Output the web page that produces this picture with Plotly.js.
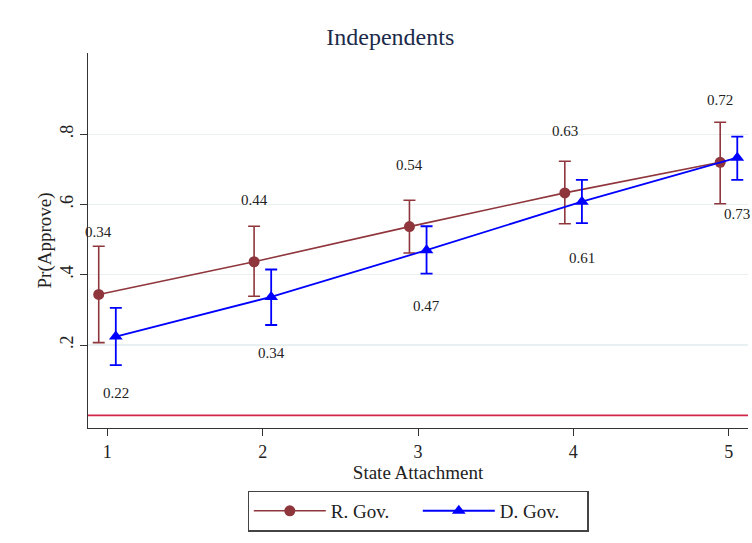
<!DOCTYPE html>
<html><head><meta charset="utf-8">
<script src="https://cdn.plot.ly/plotly-3.0.1.min.js"></script>
<style>html,body{margin:0;padding:0;background:#fff}#chart{width:752px;height:543px}</style>
</head><body><div id="chart"></div>
<script>
// State attachment categories
const attachment = [1, 2, 3, 4, 5];
const xTickLabels = ['1', '2', '3', '4', '5'];
// R. Gov. series
const rGov = [0.344, 0.437, 0.537, 0.633, 0.720];
const rGovLo = [0.207, 0.339, 0.462, 0.545, 0.602];
const rGovHi = [0.481, 0.538, 0.612, 0.723, 0.834];
const rGovLabels = ['0.34', '0.44', '0.54', '0.63', '0.72'];
// D. Gov. series
const dGov = [0.224, 0.337, 0.470, 0.608, 0.733];
const dGovLo = [0.143, 0.257, 0.403, 0.547, 0.670];
const dGovHi = [0.306, 0.415, 0.538, 0.670, 0.793];
const dGovLabels = ['0.22', '0.34', '0.47', '0.61', '0.73'];
const yTickVals = [0.2, 0.4, 0.6, 0.8];
const yTickLabels = ['.2', '.4', '.6', '.8'];

const RED = '#8f363c', BLUE = '#0000ff';
const serif = 'Liberation Serif, Times New Roman, serif';
const dx = 0.055;

const rx = attachment.map(v => v - dx);
const bx = attachment.map(v => v + dx);

const traces = [
  {x: rx, y: rGov, type: 'scatter', mode: 'lines+markers', name: 'R. Gov.',
   line: {color: RED, width: 1.6}, marker: {symbol: 'circle', size: 11, color: RED},
   error_y: {type: 'data', symmetric: false,
     array: rGov.map((v, i) => rGovHi[i] - v), arrayminus: rGov.map((v, i) => v - rGovLo[i]),
     color: RED, thickness: 1.6, width: 6}},
  {x: bx, y: dGov, type: 'scatter', mode: 'lines+markers', name: 'D. Gov.',
   line: {color: BLUE, width: 1.8}, marker: {symbol: 'triangle-up', size: 12, color: BLUE},
   error_y: {type: 'data', symmetric: false,
     array: dGov.map((v, i) => dGovHi[i] - v), arrayminus: dGov.map((v, i) => v - dGovLo[i]),
     color: BLUE, thickness: 1.8, width: 6}}
];

const ann = [];
rGov.forEach((v, i) => ann.push({x: rx[i], y: v, xref: 'x', yref: 'y', text: rGovLabels[i],
  showarrow: false, yshift: 62, font: {family: serif, size: 15, color: '#222'}}));
dGov.forEach((v, i) => ann.push({x: bx[i], y: v, xref: 'x', yref: 'y', text: dGovLabels[i],
  showarrow: false, yshift: -56, font: {family: serif, size: 15, color: '#222'}}));

const layout = {
  width: 752, height: 543,
  margin: {l: 88, r: 4, t: 53, b: 115},
  paper_bgcolor: '#fff', plot_bgcolor: '#fff',
  font: {family: serif, color: '#222'},
  title: {text: 'Independents', x: 0.458, xref: 'paper', y: 0.932, yanchor: 'middle',
          font: {family: serif, size: 24, color: '#1c2b4a'}},
  xaxis: {range: [0.876, 5.124], tickvals: attachment, ticktext: xTickLabels,
          showgrid: false, zeroline: false, showline: true, linecolor: '#333', linewidth: 1.3,
          ticks: 'outside', ticklen: 7, tickcolor: '#333', tickfont: {family: serif, size: 18, color: '#222'},
          title: {text: 'State Attachment', font: {family: serif, size: 19, color: '#222'}, standoff: 0}},
  yaxis: {range: [-0.036, 1.031], tickvals: yTickVals, ticktext: yTickLabels, tickangle: -90,
          showgrid: true, gridcolor: '#e8f0f2', gridwidth: 1.2, zeroline: false,
          showline: true, linecolor: '#333', linewidth: 1.3,
          ticks: 'outside', ticklen: 7, tickcolor: '#333', tickfont: {family: serif, size: 18, color: '#222'},
          title: {text: 'Pr(Approve)', font: {family: serif, size: 19, color: '#222'}, standoff: 0}},
  shapes: [{type: 'line', xref: 'paper', x0: 0, x1: 1, yref: 'y', y0: 0, y1: 0,
            line: {color: '#d1264a', width: 1.6}}],
  annotations: ann,
  showlegend: true,
  legend: {orientation: 'h', x: 0.5, xanchor: 'center', y: -0.167, yanchor: 'top',
           bordercolor: '#444', borderwidth: 1.3, bgcolor: '#fff',
           font: {family: serif, size: 19, color: '#222'}, itemwidth: 72,
           entrywidth: 82, entrywidthmode: 'pixels'}
};

Plotly.newPlot('chart', traces, layout, {displayModeBar: false, staticPlot: true});
</script></body></html>
